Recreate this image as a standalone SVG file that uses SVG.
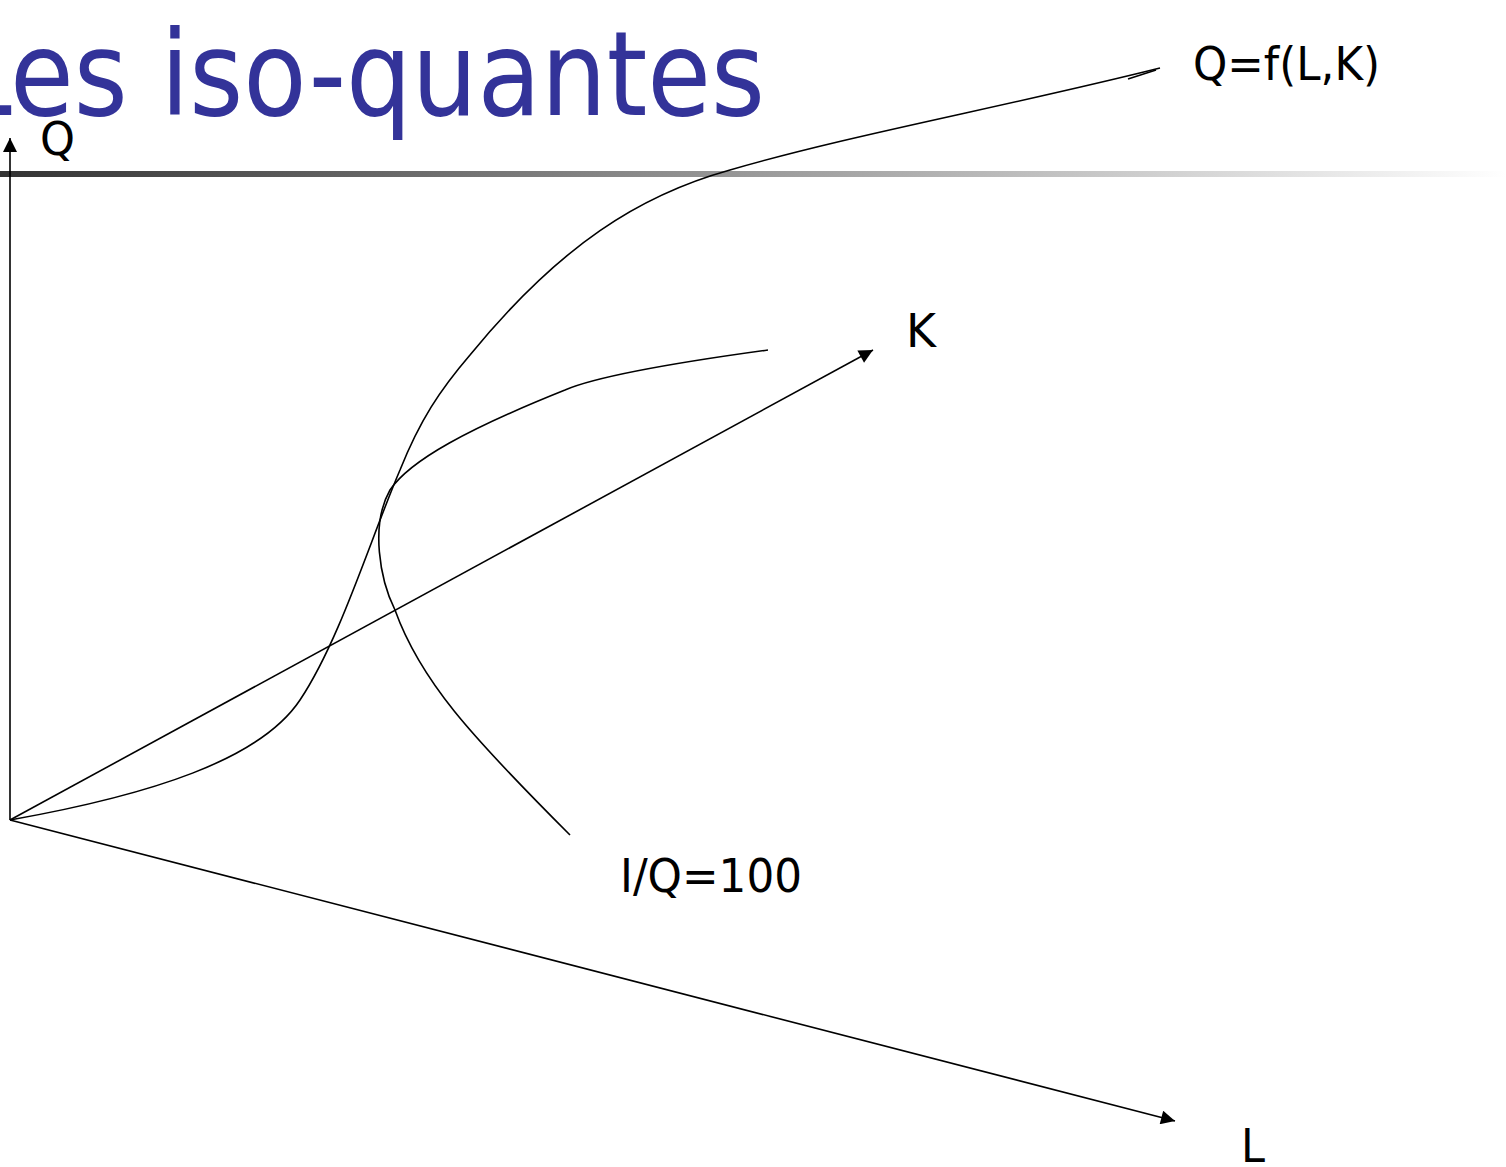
<svg xmlns="http://www.w3.org/2000/svg" width="1506" height="1167" viewBox="0 0 1506 1167">
<style>
.lbl{font-family:"DejaVu Sans","Liberation Sans",sans-serif;font-size:46px;fill:#000}
.ln{fill:none;stroke:#000;stroke-width:1.6}
</style>
<defs>
<linearGradient id="bar" x1="0" y1="0" x2="1" y2="0">
<stop offset="0" stop-color="#333"/>
<stop offset="0.5" stop-color="#999"/>
<stop offset="1" stop-color="#fff"/>
</linearGradient>
<marker id="arr" viewBox="0 0 10 10" refX="10" refY="5" markerWidth="10" markerHeight="10" markerUnits="userSpaceOnUse" orient="auto">
<path d="M0,0 L10,5 L0,10 z" fill="#000"/>
</marker>
<marker id="arrB" viewBox="0 0 10 10" refX="10" refY="5" markerWidth="16" markerHeight="14" markerUnits="userSpaceOnUse" orient="auto">
<path d="M0,0 L10,5 L0,10 z" fill="#000"/>
</marker>
</defs>
<rect width="1506" height="1167" fill="#fff"/>
<g id="title">
<text x="-46" y="115" font-family="DejaVu Sans,'Liberation Sans',sans-serif" font-size="118" fill="#333399" textLength="811" lengthAdjust="spacingAndGlyphs">Les iso-quantes</text>
<rect x="0" y="171" width="1506" height="6" fill="url(#bar)"/>
</g>
<g id="connectors">
<line class="ln" x1="10" y1="820" x2="10" y2="138" marker-end="url(#arrB)"/>
<line class="ln" x1="10" y1="820" x2="873" y2="350" marker-end="url(#arrB)"/>
<line class="ln" x1="10" y1="820" x2="1175" y2="1121" marker-end="url(#arrB)"/>
</g>
<g id="production-curve">
<path class="ln" d="M10,820 C150,795 260,760 300,700 C340,640 370,540 400,470 C420,420 440,390 470,355 C560,245 640,195 730,170 C850,135 1000,108 1160,68"/>
<path class="ln" d="M1128,79 L1156,70"/>
</g>
<g id="isoquant">
<path class="ln" d="M768,350 C680,362 600,375 565,390 C470,428 410,460 390,490 C370,525 380,580 395,610 C420,680 470,735 570,835"/>
</g>
<g id="labels">
<text class="lbl" x="40" y="155" textLength="35" lengthAdjust="spacingAndGlyphs">Q</text>
<text class="lbl" x="1193" y="80" textLength="187" lengthAdjust="spacingAndGlyphs">Q=f(L,K)</text>
<text class="lbl" x="906" y="347" textLength="30" lengthAdjust="spacingAndGlyphs">K</text>
<text class="lbl" x="620" y="892" textLength="182" lengthAdjust="spacingAndGlyphs">I/Q=100</text>
<text class="lbl" x="1241" y="1162" textLength="24" lengthAdjust="spacingAndGlyphs">L</text>
</g>
</svg>
